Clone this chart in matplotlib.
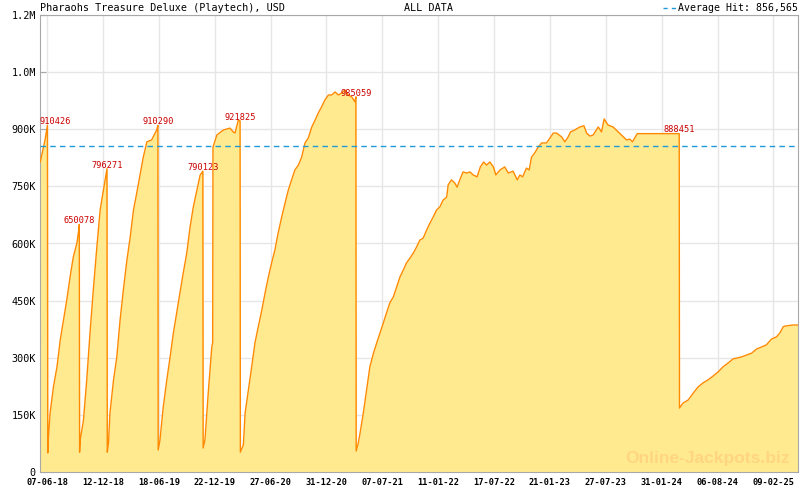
import numpy as np
import pandas as pd
import matplotlib
matplotlib.use('Agg')
import matplotlib.pyplot as plt
import matplotlib.ticker as mticker
import matplotlib.dates as mdates

# Jours depuis le 07-06-18 et valeur du jackpot (en milliers d'USD)
jours = [-23, -12, -7, 1,
         2, 4, 10, 21, 33, 44, 55, 66, 77, 88, 100, 107, 108,
         109, 111, 122, 133, 144, 155, 167, 178, 189, 201,
         202, 206, 211, 223, 234, 245, 256, 268, 279, 290, 301, 323, 335, 351, 368, 372,
         373, 379, 390, 402, 413, 424, 435, 446, 457, 469, 480, 491, 503, 514, 523,
         524, 530, 541, 553, 556, 557, 570, 592, 614, 625, 631, 642, 648,
         649, 659, 665, 676, 687, 698, 709, 721, 732, 743, 754, 765, 776, 788, 799, 810,
         821, 832, 844, 855, 866, 877, 889, 900, 911, 922, 933, 945, 956, 967, 978, 989,
         1000, 1011, 1023, 1034, 1037,
         1038, 1045, 1051, 1062, 1073, 1084, 1096, 1107, 1118, 1129, 1140, 1151, 1163,
         1174, 1185, 1196, 1207, 1219, 1230, 1241, 1252, 1263, 1275, 1286, 1297, 1308,
         1319, 1330, 1342, 1347, 1358, 1369, 1377, 1386, 1397, 1409, 1420, 1431, 1444,
         1455, 1466, 1476, 1487, 1499, 1507, 1521, 1537, 1549, 1565, 1579, 1588, 1597,
         1610, 1619, 1627, 1638, 1649, 1661, 1677, 1689, 1700, 1711, 1728, 1739, 1750,
         1758, 1772, 1789, 1803, 1812, 1823, 1834, 1851, 1862, 1871, 1884, 1901, 1918,
         1929, 1946, 1957, 1966, 1982, 2123,
         2124, 2136, 2153, 2170, 2186, 2203, 2220, 2237, 2254, 2270, 2287, 2304, 2315,
         2332, 2349, 2366, 2383, 2399, 2416, 2433, 2450, 2461, 2472, 2477, 2505, 2522]
valeurs_k = [814, 853, 872, 910.426,
             50, 89, 155, 223, 276, 347, 399, 452, 512, 565, 601, 640, 650.078,
             52, 84, 136, 242, 365, 478, 591, 688, 740, 796.271,
             52, 76, 155, 242, 302, 399, 478, 557, 617, 688, 733, 827, 867, 872, 898, 910.290,
             58, 84, 171, 242, 302, 365, 418, 470, 522, 575, 643, 696, 740, 780, 790.123,
             63, 84, 207, 328, 340, 853, 885, 898, 903, 893, 890, 924, 921.825,
             52, 71, 155, 215, 276, 339, 381, 425, 470, 512, 549, 583, 628, 670, 706, 740,
             767, 793, 806, 827, 864, 877, 906, 924, 943, 959, 977, 990, 990, 998, 990, 995,
             1003, 990, 985, 972, 985.059,
             55, 76, 102, 155, 215, 276, 312, 339, 365, 391, 418, 444, 460,
             486, 512, 530, 549, 562, 575, 591, 609, 614, 636, 654, 670, 688,
             696, 714, 722, 754, 767, 759, 748, 767, 788, 785, 788, 780, 775,
             801, 814, 806, 814, 801, 780, 793, 801, 785, 790, 767, 780, 775,
             798, 793, 827, 838, 853, 864, 864, 877, 890, 890, 880, 867, 880,
             893, 898, 906, 909, 890, 882, 885, 906, 893, 927, 911, 906, 893,
             885, 872, 874, 867, 888.451, 888.451,
             168, 181, 189, 207, 223, 234, 242, 252, 263, 276, 286, 297, 299,
             302, 307, 312, 323, 328, 334, 349, 355, 365, 381, 383, 386, 386]

dates_ticks = ['07-06-18', '12-12-18', '18-06-19', '22-12-19', '27-06-20', '31-12-20',
               '07-07-21', '11-01-22', '17-07-22', '21-01-23', '27-07-23', '31-01-24',
               '06-08-24', '09-02-25']
y_ticks = [0, 150000, 300000, 450000, 600000, 750000, 900000, 1050000, 1200000]
y_labels = ['0', '150K', '300K', '450K', '600K', '750K', '900K', '1.0M', '1.2M']

debut = pd.Timestamp('2018-06-07')
dates = debut + pd.to_timedelta(jours, unit='D')
valeurs = np.array(valeurs_k) * 1000

# Les gains (juste avant chaque chute)
i_gains = [i for i in range(len(valeurs) - 1) if valeurs[i+1] < 0.5 * valeurs[i]]
moyenne = np.mean(valeurs[i_gains])

plt.rcParams['font.family'] = 'DejaVu Sans Mono'

fig = plt.figure(figsize=(8, 4.9), dpi=100)
ax = fig.add_axes([40/800, 18/490, 758/800, 457/490])

ax.fill_between(dates, valeurs, color='#FFEA90', lw=0, zorder=2)
ax.plot(dates, valeurs, color='#FF8A00', lw=1.0, zorder=3)
ax.axhline(moyenne, color='#1E9AD6', lw=1, ls=(0, (4, 3)), zorder=4)

xmin = debut - pd.Timedelta(days=24)
xmax = debut + pd.Timedelta(days=2522)
for i in i_gains:
    xl = max(dates[i], debut + pd.Timedelta(days=27))
    ax.text(xl, valeurs[i] - 2000, '{}'.format(int(round(valeurs[i]))),
            color='#CC0000', fontsize=6.2, ha='center', va='bottom', zorder=5)

ax.set_xlim(xmin, xmax)
ax.set_ylim(0, 1.2e6)

# Axes et grille
majeurs = mdates.date2num(pd.to_datetime(dates_ticks, format='%d-%m-%y'))
mineurs = []
for a, b in zip(majeurs[:-1], majeurs[1:]):
    mineurs += [a + (b - a) * k / 4 for k in range(1, 4)]
mineurs += [majeurs[-1] + (majeurs[1] - majeurs[0]) / 4]
ax.xaxis.set_major_locator(mticker.FixedLocator(majeurs))
ax.xaxis.set_minor_locator(mticker.FixedLocator(mineurs))
ax.xaxis.set_major_formatter(mdates.DateFormatter('%d-%m-%y'))
ax.set_yticks(y_ticks)
ax.set_yticklabels(y_labels)
ax.grid(True, which='major', color='#E6E6E6', lw=1, zorder=0)
ax.set_axisbelow(True)
for s in ax.spines.values():
    s.set_color('#A8A8A8')
ax.tick_params(axis='x', which='both', direction='in', length=4, color='#A8A8A8',
               labelsize=6.2, pad=4)
ax.tick_params(axis='y', direction='in', length=4, color='#A8A8A8', labelsize=7.3, pad=3)
for lab in ax.get_xticklabels():
    lab.set_fontweight('bold')

# Titres
fig.text(40/800, 1 - 8/490, 'Pharaohs Treasure Deluxe (Playtech), USD',
         fontsize=7.3, ha='left', va='center')
fig.text(429/800, 1 - 8/490, 'ALL DATA', fontsize=7.3, ha='center', va='center')
fig.text(798/800, 1 - 8/490, 'Average Hit: {:,.0f}'.format(moyenne),
         fontsize=7.1, ha='right', va='center')
fig.add_artist(plt.Line2D([663/800, 677/800], [1 - 8/490, 1 - 8/490],
                          color='#1E9AD6', lw=1, ls=(0, (3, 3)),
                          transform=fig.transFigure))

fig.text(790/800, 1 - 458/490, 'Online-Jackpots.biz', fontsize=12.5, fontweight='bold',
         family='Liberation Sans', color='#FFD581', ha='right', va='center', zorder=6)

fig.savefig('out.png', dpi=100)
